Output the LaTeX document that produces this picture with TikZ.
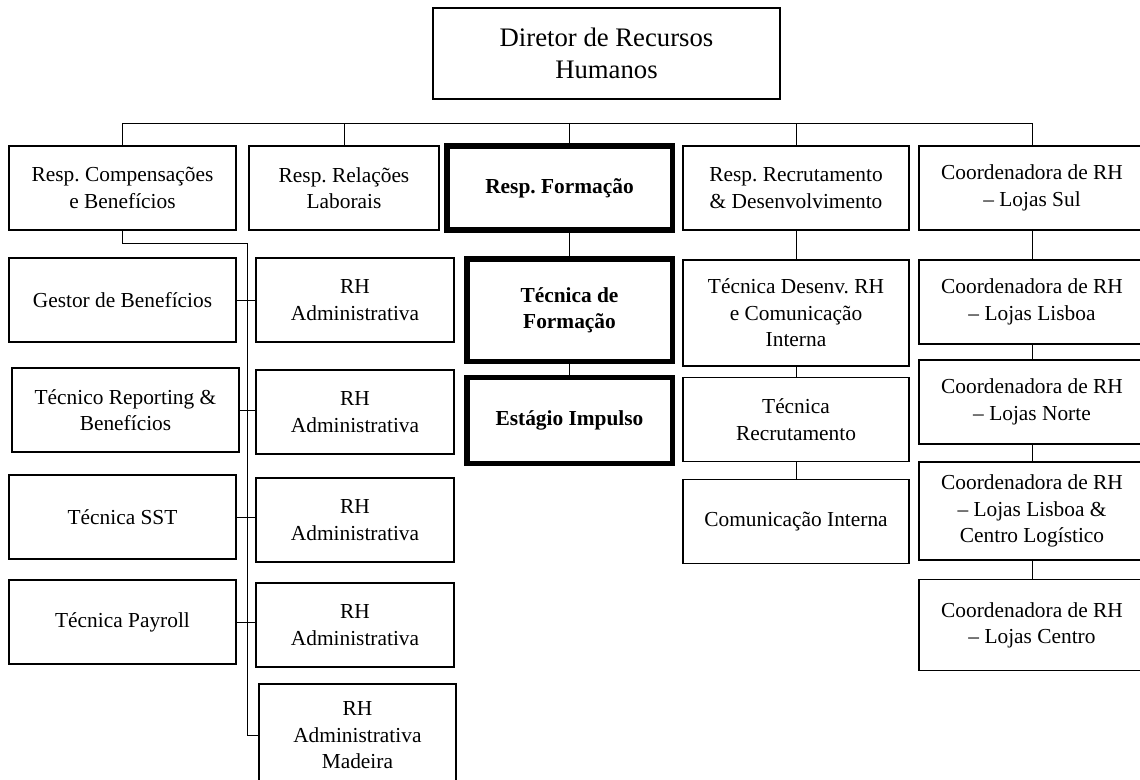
\documentclass[tikz,border=0pt]{standalone}
\usepackage{fontspec}
\setmainfont{Liberation Serif}
\usepackage{tikz}
\usetikzlibrary{shapes.geometric, arrows}
\frenchspacing
\tikzstyle{unit} = [rectangle, draw=black, line width=0.9pt, align=center, inner sep=2pt, minimum height=2.1cm, font=\fontsize{15.2}{18.8}\selectfont]
\tikzstyle{lead} = [unit, line width=3.6pt, font=\fontsize{15.2}{18.8}\selectfont\bfseries]
\tikzstyle{link} = [line width=0.7pt]

\begin{document}
\begin{tikzpicture}[x=0.025cm, y=-0.025cm, node distance=2.75cm]
\useasboundingbox (0,0) rectangle (1140,780);
\clip (0,0) rectangle (1140,780);

\node (director) [unit, minimum width=8.675cm, minimum height=2.275cm, font=\fontsize{19}{23}\selectfont] at (606.5,53.5) {Diretor de Recursos\\Humanos};

% first level
\node (compens) [unit, minimum width=5.675cm] at (122.5,188) {Resp. Compensações\\e Benefícios};
\node (relacoes) [unit, minimum width=4.75cm] at (344,188) {Resp. Relações\\Laborais};
\node (formacao) [lead, minimum width=5.625cm] at (559.5,188) {Resp. Formação};
\node (recrut) [unit, minimum width=5.65cm] at (796,188) {Resp. Recrutamento\\\& Desenvolvimento};
\node (coordsul) [unit, minimum width=5.65cm] at (1032,188) {Coordenadora de RH\\– Lojas Sul};

% compensacoes
\node (gestor) [unit, minimum width=5.675cm, below of=compens, yshift=-0.05cm] {Gestor de Benefícios};
\node (reporting) [unit, minimum width=5.675cm, below of=gestor, xshift=0.075cm] {Técnico Reporting \&\\Benefícios};
\node (sst) [unit, minimum width=5.675cm, below of=reporting, xshift=-0.075cm, yshift=0.075cm] {Técnica SST};
\node (payroll) [unit, minimum width=5.675cm, below of=sst, yshift=0.125cm] {Técnica Payroll};

% relacoes laborais
\node (adminA) [unit, minimum width=4.95cm, below of=relacoes, xshift=0.275cm, yshift=-0.05cm] {RH\\Administrativa};
\node (adminB) [unit, minimum width=4.95cm, below of=adminA, yshift=-0.05cm] {RH\\Administrativa};
\node (adminC) [unit, minimum width=4.95cm, below of=adminB, yshift=0.05cm] {RH\\Administrativa};
\node (adminD) [unit, minimum width=4.95cm, below of=adminC, yshift=0.125cm] {RH\\Administrativa};
\node (madeira) [unit, minimum width=4.925cm, minimum height=2.55cm, below of=adminD, xshift=0.06cm] {RH\\Administrativa\\Madeira};

% formacao
\node (tecform) [lead, minimum width=5.125cm, minimum height=2.55cm, below of=formacao, xshift=0.25cm, yshift=-0.3cm] {Técnica de\\Formação};
\node (estagio) [lead, minimum width=5.125cm, minimum height=2.15cm, below of=tecform] {Estágio Impulso};

% recrutamento
\node (tecdesenv) [unit, minimum width=5.65cm, minimum height=2.65cm, below of=recrut, yshift=-0.375cm] {Técnica Desenv. RH\\e Comunicação\\Interna};
\node (tecrecrut) [unit, minimum width=5.65cm, below of=tecdesenv, yshift=0.09cm] {Técnica\\Recrutamento};
\node (comint) [unit, minimum width=5.65cm, below of=tecrecrut, yshift=0.2cm] {Comunicação Interna};

% coordenadoras
\node (coordlx) [unit, minimum width=5.65cm, below of=coordsul, yshift=-0.1cm] {Coordenadora de RH\\– Lojas Lisboa};
\node (coordnorte) [unit, minimum width=5.65cm, below of=coordlx, yshift=0.25cm] {Coordenadora de RH\\– Lojas Norte};
\node (coordlxc) [unit, minimum width=5.65cm, minimum height=2.45cm, below of=coordnorte, yshift=0.025cm] {Coordenadora de RH\\– Lojas Lisboa \&\\Centro Logístico};
\node (coordcentro) [unit, minimum width=5.65cm, minimum height=2.275cm, below of=coordlxc, yshift=-0.1cm] {Coordenadora de RH\\– Lojas Centro};

\coordinate (bus) at (0,123);
\coordinate (spine) at (247,243);

\draw [link] (compens.north) |- (coordsul.north |- bus) -- (coordsul.north);
\draw [link] (relacoes.north) -- (relacoes.north |- bus);
\draw [link] (tecform.north |- bus) -- (tecform.north |- formacao.north);
\draw [link] (recrut.north) -- (recrut.north |- bus);

\draw [link] (compens.south) |- (spine) |- (madeira.west);
\foreach \a/\b in {gestor/adminA, reporting/adminB, sst/adminC, payroll/adminD}
  \draw [link] (\a.east) -- (\a.east -| \b.west);

\draw [link] (tecform.north |- formacao.south) -- (tecform.north);
\draw [link] (tecform) -- (estagio);

\draw [link] (recrut) -- (tecdesenv);
\draw [link] (tecdesenv) -- (tecrecrut);
\draw [link] (tecrecrut) -- (comint);

\draw [link] (coordsul) -- (coordlx);
\draw [link] (coordlx) -- (coordnorte);
\draw [link] (coordnorte) -- (coordlxc);
\draw [link] (coordlxc) -- (coordcentro);
\end{tikzpicture}
\end{document}
